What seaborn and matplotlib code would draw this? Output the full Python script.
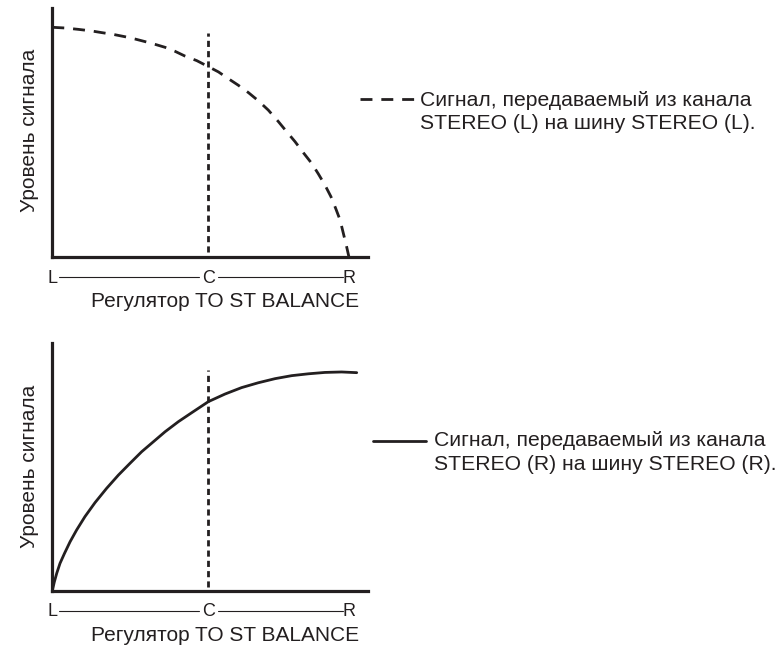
import pandas as pd
import seaborn as sns
import matplotlib.pyplot as plt
from matplotlib.lines import Line2D
import matplotlib.transforms as mtransforms

sns.set_theme(style="white")
plt.rcParams['font.family'] = ['Liberation Sans', 'DejaVu Sans']

INK = "#231f20"
FS = 15       # titles, axis labels, legend text
FS_KNOB = 13  # L / C / R marks

# Balance knob positions (L = 0, R = 1)
knob_labels = ["L", "C", "R"]
knob_pos = [0.0, 0.526, 1.0]

# Level of STEREO (L) channel sent to STEREO (L) bus
left_pos = [0.000, 0.043, 0.088, 0.133, 0.166, 0.206, 0.245, 0.279, 0.312,
            0.346, 0.380, 0.413, 0.447, 0.487, 0.526, 0.560, 0.593, 0.627,
            0.661, 0.694, 0.728, 0.762, 0.790, 0.818, 0.846, 0.874, 0.897,
            0.919, 0.939, 0.955, 0.970, 0.981, 0.992, 1.000]
left_level = [1.000, 0.997, 0.991, 0.984, 0.977, 0.969, 0.959, 0.949, 0.938,
              0.926, 0.913, 0.896, 0.875, 0.855, 0.829, 0.806, 0.777, 0.748,
              0.716, 0.681, 0.640, 0.590, 0.546, 0.503, 0.455, 0.409, 0.362,
              0.314, 0.264, 0.213, 0.162, 0.104, 0.046, 0.000]

# Level of STEREO (R) channel sent to STEREO (R) bus
right_pos = [0.000, 0.007, 0.015, 0.026, 0.041, 0.060, 0.082, 0.110, 0.144,
             0.183, 0.223, 0.262, 0.301, 0.341, 0.380, 0.425, 0.470, 0.526,
             0.582, 0.638, 0.694, 0.751, 0.807, 0.863, 0.919, 0.975, 1.026]
right_level = [0.000, 0.039, 0.076, 0.119, 0.162, 0.213, 0.264, 0.322, 0.383,
               0.445, 0.503, 0.554, 0.604, 0.648, 0.691, 0.735, 0.774, 0.822,
               0.855, 0.883, 0.904, 0.922, 0.935, 0.943, 0.949, 0.951, 0.948]

y_label = "Уровень сигнала"
x_label = "Регулятор TO ST BALANCE"
legend_left = ["Сигнал, передаваемый из канала", "STEREO (L) на шину STEREO (L)."]
legend_right = ["Сигнал, передаваемый из канала", "STEREO (R) на шину STEREO (R)."]

W, H = 782, 645
fig = plt.figure(figsize=(W / 100, H / 100), dpi=100)
fig.patch.set_facecolor("white")


def fx(px):
    return px / W


def fy(py):
    return (H - py) / H


def make_axes(top_px, bottom_px, left_px=52.3, right_px=368.0):
    return fig.add_axes([fx(left_px), fy(bottom_px),
                         (right_px - left_px) / W, (bottom_px - top_px) / H])


def style_axes(ax, bottom_px, top_px, ylab_center_px, dotted_lo, dotted_hi):
    unit = 296.7  # pixels per data unit (both directions)
    ax.set_xlim(0, (368.0 - 52.3) / unit)
    ax.set_ylim(0, (bottom_px - top_px) / 230.0)
    ax.set_xticks([])
    ax.set_yticks([])
    ax.set_xlabel("")
    ax.set_ylabel("")
    ax.set_facecolor("white")
    for side in ("top", "right"):
        ax.spines[side].set_visible(False)
    for side in ("left", "bottom"):
        ax.spines[side].set_color(INK)
        ax.spines[side].set_linewidth(2.3)
        ax.spines[side].set_capstyle("projecting")

    # centre marker
    ax.vlines(knob_pos[1], dotted_lo, dotted_hi, colors=INK, lw=2.0,
              linestyles=(0, (2.2, 1.5)))

    height = bottom_px - top_px
    trans = mtransforms.blended_transform_factory(ax.transData, ax.transAxes)
    base_y = -25.4 / height
    line_y = -20.0 / height
    for lbl, p in zip(knob_labels, knob_pos):
        ax.text(p, base_y, lbl, transform=trans, ha="center", va="baseline",
                fontsize=FS_KNOB, color=INK)
    for a, b in [(0.021, 0.493), (0.559, 0.981)]:
        ax.plot([a, b], [line_y, line_y], transform=trans, color=INK, lw=0.8,
                clip_on=False)

    ax.text(fx(225), fy(bottom_px + 50.0), x_label, transform=fig.transFigure,
            ha="center", va="baseline", fontsize=FS, color=INK)
    ax.text(fx(30), fy(ylab_center_px), y_label, transform=fig.transFigure,
            rotation=90, ha="center", va="center", fontsize=FS, color=INK)


# Upper panel: dashed curve
ax1 = make_axes(8.0, 257.3)
sns.lineplot(x=left_pos, y=left_level, ax=ax1, color=INK, lw=2.0,
             dashes=(4.3, 3.2), sort=False, estimator=None)
style_axes(ax1, 257.3, 8.0, 130, 0.023, 0.975)

# Lower panel: solid curve
ax2 = make_axes(343.3, 590.7)
sns.lineplot(x=right_pos, y=right_level, ax=ax2, color=INK, lw=2.0,
             sort=False, estimator=None)
style_axes(ax2, 590.7, 343.3, 466, 0.016, 0.96)

# Legend keys
fig.add_artist(Line2D([fx(360), fx(415)], [fy(99.3), fy(99.3)], color=INK,
                      lw=2.0, dashes=(4.3, 3.2), transform=fig.transFigure))
fig.text(fx(420.5), fy(105.7), legend_left[0], fontsize=15.2, color=INK, va="baseline")
fig.text(fx(420.5), fy(129.3), legend_left[1], fontsize=15.2, color=INK, va="baseline")

fig.add_artist(Line2D([fx(373), fx(426)], [fy(441.0), fy(441.0)], color=INK,
                      lw=2.0, transform=fig.transFigure))
fig.text(fx(434.5), fy(445.7), legend_right[0], fontsize=15.2, color=INK, va="baseline")
fig.text(fx(434.5), fy(469.5), legend_right[1], fontsize=15.2, color=INK, va="baseline")

fig.savefig("out.png", dpi=100, facecolor="white")
